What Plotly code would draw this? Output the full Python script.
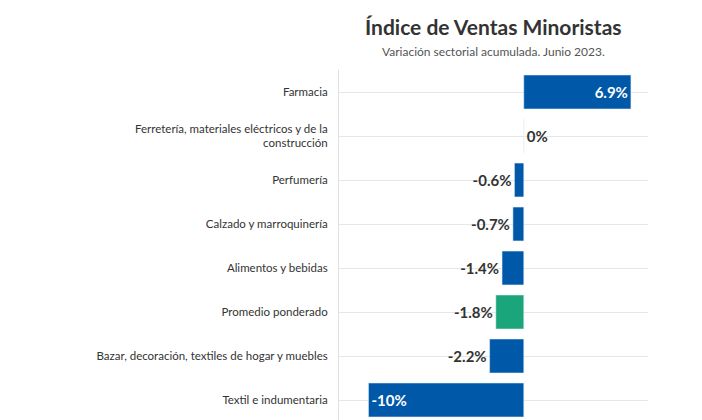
import plotly.graph_objects as go

categories = ["Farmacia", "Ferretería, materiales eléctricos y de la<br>construcción", "Perfumería",
              "Calzado y marroquinería", "Alimentos y bebidas", "Promedio ponderado",
              "Bazar, decoración, textiles de hogar y muebles", "Textil e indumentaria"]
values = [6.9, 0, -0.6, -0.7, -1.4, -1.8, -2.2, -10]
labels = ["6.9%", "0%", "-0.6%", "-0.7%", "-1.4%", "-1.8%", "-2.2%", "-10%"]

colors = ["#1aa57a" if c == "Promedio ponderado" else "#0058a8" for c in categories]
positions = ["inside" if abs(v) >= 5 else "outside" for v in values]
fonts = ["#ffffff" if abs(v) >= 5 else "#333333" for v in values]

fig = go.Figure(go.Bar(
    y=categories, x=values, orientation="h", marker_color=colors,
    text=labels, textposition=positions, insidetextanchor="end",
    textfont=dict(size=15, color=fonts, family="Lato", weight="bold"),
    cliponaxis=False, hoverinfo="skip"))

fig.update_layout(
    width=702, height=420, margin=dict(l=331, r=62, t=62, b=6),
    paper_bgcolor="white", plot_bgcolor="white", bargap=0.23, showlegend=False,
    font=dict(family="Lato", color="#333333"),
    annotations=[
        dict(text="<b>Índice de Ventas Minoristas</b>", x=0.5, y=18, xref="paper", yref="paper",
             showarrow=False, font=dict(size=21, color="#333333"), yanchor="middle"),
        dict(text="Variación sectorial acumulada. Junio 2023.", x=0.5, y=43, xref="paper", yref="paper",
             showarrow=False, font=dict(size=12, color="#555555"), yanchor="middle"),
    ],
    xaxis=dict(range=[-11.9, 8], showticklabels=False, showgrid=False, zeroline=False),
    yaxis=dict(autorange="reversed", showgrid=True, gridcolor="#e6e6e6", tickfont=dict(size=11.5, color="#333333"),
               ticks="", ticklabelstandoff=8, showline=True, linecolor="#e0e0e0", linewidth=1),
)
# convert pixel positions of title annotations to paper coordinates
ph = 420 - 62 - 6
for a in fig.layout.annotations:
    a.y = (420 - 6 - a.y) / ph
fig.write_html("out.html")
